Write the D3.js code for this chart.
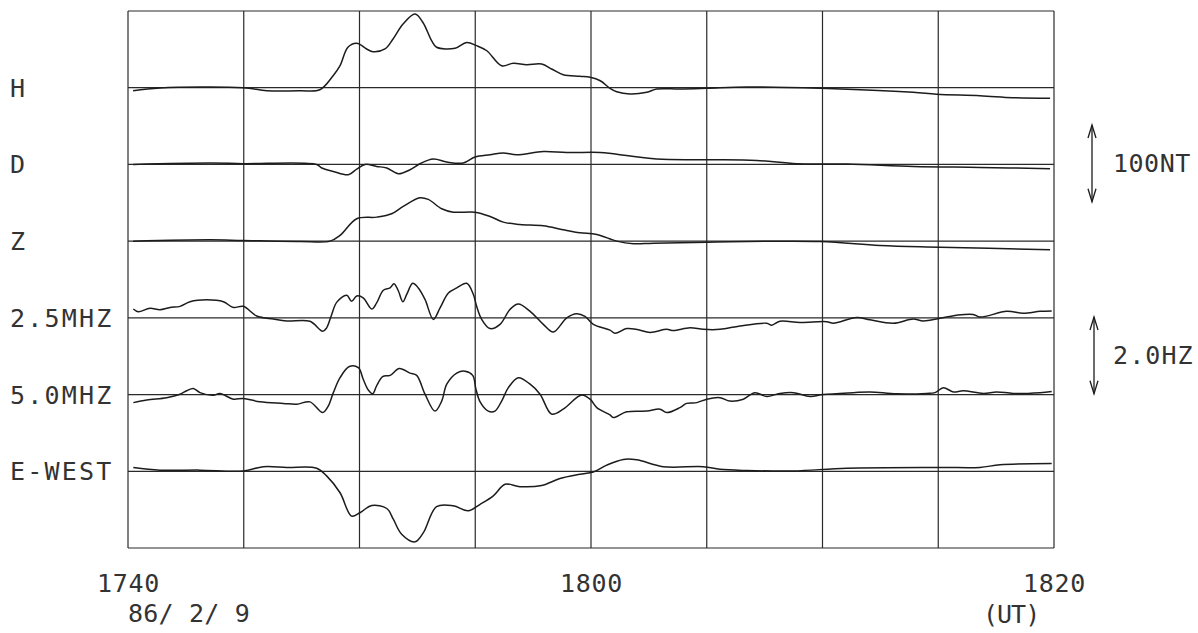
<!DOCTYPE html>
<html>
<head>
<meta charset="utf-8">
<script src="https://cdn.jsdelivr.net/npm/d3@7"></script>
<style>
  html, body { margin: 0; padding: 0; background: #fff; }
  svg { display: block; }
  text { font-family: "DejaVu Sans Mono", "Liberation Mono", monospace; fill: #333; }
</style>
</head>
<body>
<svg id="chart" width="1198" height="633"></svg>
<script>
// ---- data (time in minutes after 17:40 UT, values in nT or Hz) ----
const rowLabels = ["H", "D", "Z", "2.5MHZ", "5.0MHZ", "E-WEST"];
const rowUnits  = ["nT", "nT", "nT", "Hz", "Hz", "Hz"];
const tickTimes = [0, 20, 40];
const tickLabels = ["1740", "1800", "1820"];
const dateLabel = "86/ 2/ 9";
const utLabel = "(UT)";
const scaleLabels = ["100NT", "2.0HZ"];
const scaleValues = [100, 2.0];

const seriesH = [[0.22,-3.9],[1.38,-0.4],[4.97,0],[6.0,-3.9],[7.43,-3.9],[8.29,-2.6],[8.86,15.6],[9.16,28.7],[9.5,52.7],[9.88,57.9],[10.31,50.5],[10.58,46.9],[11.1,50.5],[11.45,63.5],[11.88,83],[12.4,96],[12.74,85],[13.12,61],[13.33,52.7],[14.13,51.4],[14.63,59],[15.06,54.8],[15.5,48.2],[16.14,28.7],[16.64,31.8],[17.22,30],[17.87,30.9],[18.3,24.4],[18.8,17],[19.52,14.9],[19.96,13.6],[20.4,9.1],[20.82,-0.8],[21.11,-5.2],[21.68,-8.2],[22.41,-6],[22.84,-1.7],[23.84,-1.7],[25.0,-0.8],[26.73,0.9],[29.89,-0.8],[33.91,-6],[34.93,-8.6],[36.8,-10.4],[38.23,-13],[39.83,-13.8]];

const seriesD = [[0.22,0],[3.54,1.8],[4.97,1],[8.15,0],[8.37,-4.7],[8.87,-9.1],[9.52,-13.4],[9.88,-6],[10.24,0],[10.74,-2.6],[11.18,-4.7],[11.68,-12.1],[12.18,-6.9],[12.61,0.9],[13.19,7],[13.77,3.1],[14.48,1.8],[14.99,9.6],[15.64,12.6],[16.21,14.9],[16.79,12.6],[17.94,16.9],[18.95,15.6],[20.39,15.6],[20.96,13.9],[22.84,7],[25.0,6.1],[27.16,5.2],[28.89,0.9],[31.05,0.5],[33.92,-2.6],[36.8,-3.9],[39.83,-5.6]];

const seriesZ = [[0.22,0],[3.54,1.7],[4.97,0.9],[7.43,-0.4],[8.73,0],[9.16,7.4],[9.88,29.2],[10.74,31.3],[11.39,35.7],[11.89,45.2],[12.61,56.6],[12.97,54.4],[13.55,42.2],[14.05,37.8],[14.99,37.8],[15.64,32.2],[16.21,24.8],[16.93,21.8],[17.94,20.1],[18.8,14.9],[19.52,11],[20.25,8.7],[21.11,0],[21.83,-3.4],[22.69,-2.6],[25.0,-1.3],[29.89,-0.4],[32.48,-5.6],[35.08,-7.8],[39.83,-11.2]];

const series25 = [[0.23,0.23],[0.44,0.16],[0.95,0.25],[1.38,0.21],[1.81,0.27],[2.25,0.30],[2.68,0.42],[3.4,0.47],[4.12,0.42],[4.55,0.27],[4.98,0.30],[5.56,0.05],[6.28,-0.03],[6.86,-0.08],[7.86,-0.09],[8.41,-0.35],[8.58,-0.26],[8.8,0.09],[9.02,0.41],[9.45,0.59],[9.66,0.43],[9.88,0.57],[10.16,0.52],[10.53,0.23],[10.74,0.39],[11.03,0.72],[11.32,0.78],[11.49,0.89],[11.68,0.70],[11.87,0.42],[12.04,0.61],[12.3,0.90],[12.54,0.78],[12.83,0.48],[13.19,-0.04],[13.48,0.26],[13.84,0.65],[14.2,0.78],[14.63,0.90],[14.92,0.61],[15.06,0.30],[15.28,-0.04],[15.64,-0.28],[16.07,-0.17],[16.5,0.22],[16.86,0.36],[17.37,0.17],[17.94,-0.17],[18.37,-0.37],[18.95,0],[19.38,0.11],[19.74,0.04],[20.1,-0.17],[20.82,-0.32],[21.04,-0.40],[21.54,-0.28],[22.04,-0.31],[22.55,-0.38],[23.27,-0.30],[23.56,-0.33],[24.28,-0.26],[24.85,-0.30],[25.57,-0.30],[26.44,-0.21],[27.59,-0.14],[27.81,-0.19],[28.16,-0.09],[29.03,-0.12],[30.18,-0.10],[30.47,-0.14],[31.48,0.01],[32.05,-0.05],[33.06,-0.14],[33.92,-0.03],[34.35,-0.08],[35.08,-0.01],[35.8,0.07],[36.51,0.09],[36.8,0.02],[37.96,0.17],[38.67,0.12],[39.4,0.17],[39.9,0.18]];

const series50 = [[0.23,-0.21],[0.81,-0.14],[1.67,-0.08],[2.25,0.01],[2.54,0.10],[2.82,0.16],[3.11,0.05],[3.68,-0.02],[3.97,0.03],[4.55,-0.12],[4.98,-0.10],[5.7,-0.19],[6.71,-0.23],[7.29,-0.25],[7.86,-0.19],[8.41,-0.47],[8.65,-0.30],[8.87,0.05],[9.16,0.44],[9.56,0.73],[9.95,0.70],[10.16,0.40],[10.38,0.12],[10.57,0.02],[10.74,0.23],[11.0,0.47],[11.32,0.50],[11.72,0.68],[12.18,0.56],[12.47,0.50],[12.83,0.01],[13.26,-0.43],[13.55,-0.17],[13.77,0.27],[14.2,0.56],[14.56,0.61],[14.89,0.50],[15.03,0.14],[15.21,-0.19],[15.56,-0.43],[15.85,-0.43],[16.14,-0.17],[16.43,0.18],[16.86,0.44],[17.37,0.27],[17.8,0.01],[18.3,-0.51],[18.8,-0.38],[19.38,-0.08],[19.6,-0.01],[19.96,-0.12],[20.25,-0.34],[20.82,-0.53],[20.96,-0.60],[21.54,-0.45],[22.41,-0.43],[22.98,-0.38],[23.27,-0.47],[23.84,-0.34],[24.13,-0.23],[24.57,-0.21],[25.0,-0.12],[25.57,-0.08],[26.0,-0.17],[26.58,-0.12],[27.08,0.05],[27.59,-0.05],[28.16,0.03],[28.74,0.05],[29.46,-0.05],[30.03,0],[31.33,0.05],[32.05,0.07],[33.2,0.02],[34.5,0.03],[34.86,0.05],[35.22,0.18],[35.65,0.07],[36.08,0.10],[36.95,0.03],[37.52,0.07],[38.24,0.03],[39.4,0.05],[39.9,0.08]];

const seriesEW = [[0.23,0.10],[1.38,0.03],[3.11,0.03],[4.98,0.01],[5.84,0.12],[6.86,0.10],[8.15,0.08],[8.58,-0.12],[9.16,-0.56],[9.66,-1.17],[10.02,-1.08],[10.53,-0.89],[11.18,-0.97],[11.46,-1.25],[11.82,-1.64],[12.4,-1.84],[12.76,-1.60],[13.33,-0.92],[14.05,-0.90],[14.7,-1.03],[15.21,-0.86],[15.78,-0.64],[16.29,-0.34],[16.93,-0.40],[17.87,-0.37],[18.66,-0.19],[19.52,-0.08],[20.1,-0.02],[20.68,0.16],[21.4,0.31],[21.97,0.30],[23.12,0.12],[24.85,0.12],[25.57,0.05],[26.73,0.02],[28.74,0.01],[31.05,0.08],[35.08,0.10],[36.8,0.10],[37.67,0.17],[39.9,0.20]];

const allSeries = [seriesH, seriesD, seriesZ, series25, series50, seriesEW];

// ---- layout ----
const svg = d3.select("#chart");
const plotL = 128, plotR = 1054, plotT = 11, plotB = 548;
const ink = "#1c1c1c";

const x = d3.scaleLinear().domain([0, 40]).range([plotL, plotR]);
const row = d3.scaleLinear().domain([0, 7]).range([plotT, plotB]);
const rowH = row(1) - row(0);
const yScales = {
  nT: d3.scaleLinear().domain([0, 100]).range([0, -rowH]),
  Hz: d3.scaleLinear().domain([0, 2]).range([0, -rowH])
};

// grid: vertical lines every 5 minutes
const g = svg.append("g");
g.selectAll("line.v").data(x.ticks(8)).join("line").attr("class", "v")
  .attr("x1", d => x(d)).attr("x2", d => x(d))
  .attr("y1", plotT).attr("y2", plotB)
  .attr("stroke", "#2a2a2a").attr("stroke-width", 1.2);
// horizontal: top, baselines, bottom
g.selectAll("line.h").data(d3.range(0, 8)).join("line").attr("class", "h")
  .attr("x1", plotL).attr("x2", plotR)
  .attr("y1", d => row(d)).attr("y2", d => row(d))
  .attr("stroke", "#2a2a2a").attr("stroke-width", 1.2);

// traces
const line = d3.line().curve(d3.curveCatmullRom.alpha(0.5));
allSeries.forEach((s, i) => {
  const base = row(i + 1);
  const ys = yScales[rowUnits[i]];
  svg.append("path")
    .attr("d", line.x(d => x(d[0])).y(d => base + ys(d[1]))(s))
    .attr("fill", "none")
    .attr("stroke", ink)
    .attr("stroke-width", 1.5)
    .attr("stroke-linejoin", "round");
});

// row labels
svg.selectAll("text.row").data(rowLabels).join("text").attr("class", "row")
  .attr("x", 10)
  .attr("y", (d, i) => row(i + 1))
  .attr("dy", "0.36em")
  .attr("font-size", 25)
  .attr("letter-spacing", 2.2)
  .text(d => d);

// time axis labels
const axis = d3.axisBottom(x).tickValues(tickTimes)
  .tickFormat((d, i) => tickLabels[i]).tickSize(0).tickPadding(0);
const ax = svg.append("g").attr("transform", "translate(0, 592)").call(axis);
ax.select(".domain").remove();
ax.selectAll("text")
  .attr("dy", 0).attr("y", 0)
  .attr("font-size", 25)
  .attr("letter-spacing", 0.7)
  .attr("font-family", "DejaVu Sans Mono")
  .attr("fill", "#333");

svg.append("text").attr("x", 128).attr("y", 622)
  .attr("font-size", 25).attr("letter-spacing", 0.2).text(dateLabel);
svg.append("text").attr("x", 983).attr("y", 623)
  .attr("font-size", 25).attr("letter-spacing", -1).text(utLabel);

// scale arrows (each spans one row height = the labelled amount)
const arrowTop = [125, 317];
const arrowX = [1092, 1094];
const scaleSpacing = [0.5, 1.1];
scaleLabels.forEach((lab, i) => {
  const yA = arrowTop[i];
  const yB = yA + rowH;
  const ax0 = arrowX[i];
  const a = svg.append("g").attr("stroke", ink).attr("stroke-width", 1.3).attr("fill", "none");
  a.append("line").attr("x1", ax0).attr("x2", ax0).attr("y1", yA).attr("y2", yB);
  a.append("path").attr("d", `M${ax0-4},${yA+13} L${ax0},${yA} L${ax0+4},${yA+13}`);
  a.append("path").attr("d", `M${ax0-4},${yB-13} L${ax0},${yB} L${ax0+4},${yB-13}`);
  svg.append("text").attr("x", 1113).attr("y", (yA + yB) / 2)
    .attr("dy", "0.36em").attr("font-size", 25).attr("letter-spacing", scaleSpacing[i])
    .text(lab);
});
</script>
</body>
</html>
